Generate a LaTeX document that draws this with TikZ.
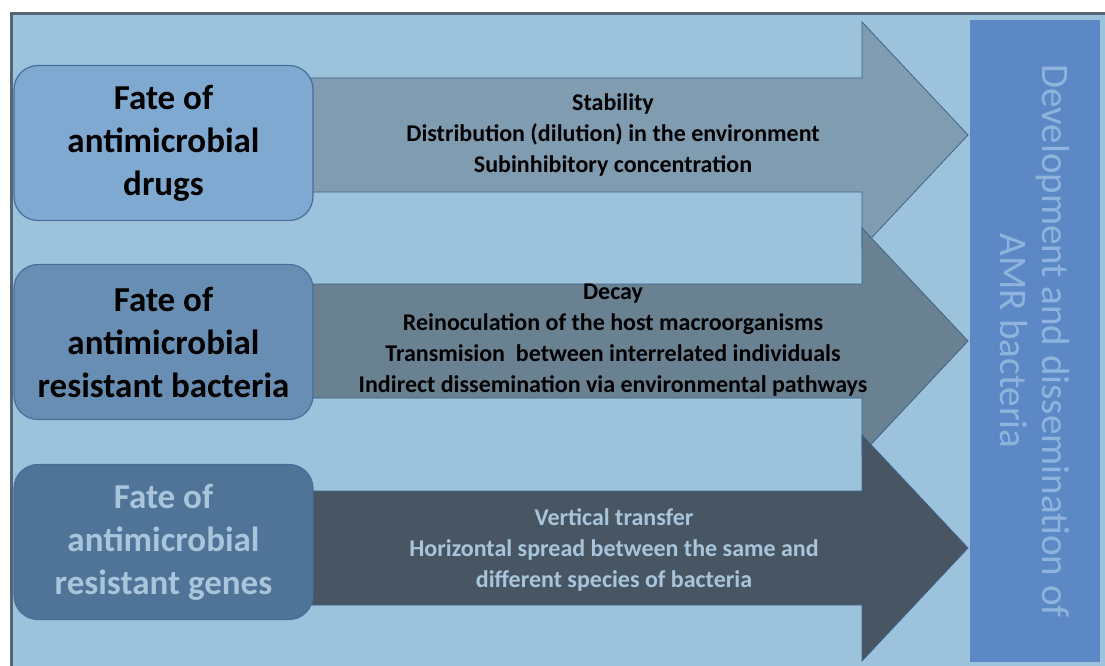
\documentclass[tikz,border=0pt]{standalone}
\usepackage{fontspec}
\setmainfont{Carlito}
\usetikzlibrary{positioning}
\definecolor{bgblue}{RGB}{157,195,220}
\definecolor{frameline}{RGB}{88,100,112}
\definecolor{boxline}{RGB}{70,112,155}
\definecolor{arrowline}{RGB}{60,100,140}
\definecolor{boxA}{RGB}{127,169,208}
\definecolor{boxB}{RGB}{104,142,180}
\definecolor{boxC}{RGB}{80,115,152}
\definecolor{arrowA}{RGB}{128,156,176}
\definecolor{arrowB}{RGB}{106,129,146}
\definecolor{arrowC}{RGB}{72,86,99}
\definecolor{panelblue}{RGB}{92,137,198}
\definecolor{paneltext}{RGB}{142,180,222}
\definecolor{palegrey}{RGB}{168,197,220}

\begin{document}
\begin{tikzpicture}[x=1pt,y=-1pt,
  fatebox/.style={draw=boxline,line width=1.2pt,rounded corners=24pt,minimum width=299pt,minimum height=155pt,align=center,inner sep=0pt,font=\fontsize{35}{43}\selectfont\bfseries},
  fxtext/.style={align=center,font=\fontsize{24}{31}\selectfont\bfseries}]
\useasboundingbox (0,0) rectangle (1105,666);
\fill[bgblue] (11,14) rectangle (1105,666);
\draw[frameline,line width=3pt] (11,666) -- (11,14) -- (1105,14);
\foreach \y/\shade in {135/arrowA,341/arrowB,548/arrowC}{
\filldraw[fill=\shade,draw=arrowline,line width=0.8pt] (300,\y-57) -- (862,\y-57) -- (862,\y-113) -- (968,\y) -- (862,\y+113) -- (862,\y+57) -- (300,\y+57) -- cycle;}
\node[fatebox,fill=boxA] (drugs) at (163.5,143) {Fate of\\antimicrobial\\drugs};
\node[fatebox,fill=boxB] (bacteria) at (163.5,342) {Fate of\\antimicrobial\\resistant bacteria};
\node[fatebox,fill=boxC,text=palegrey] (genes) at (163.5,542) {Fate of\\antimicrobial\\resistant genes};
\node[fxtext] (drugsfx) at (613,135) {Stability\\Distribution (dilution) in the environment\\Subinhibitory concentration};
\node[fxtext] (bacteriafx) at (613,340) {Decay\\Reinoculation of the host macroorganisms\\Transmision\ \ between interrelated individuals\\Indirect dissemination via environmental pathways};
\node[fxtext,text=palegrey] (genesfx) at (614,550) {Vertical transfer\\Horizontal spread between the same and\\different species of bacteria};
\node[rotate=-90,fill=panelblue,text=paneltext,minimum width=642pt,minimum height=130pt,align=center,font=\fontsize{39}{42}\selectfont] (amr) at (1035,341) {Development and dissemination of\\AMR bacteria};
\end{tikzpicture}
\end{document}
